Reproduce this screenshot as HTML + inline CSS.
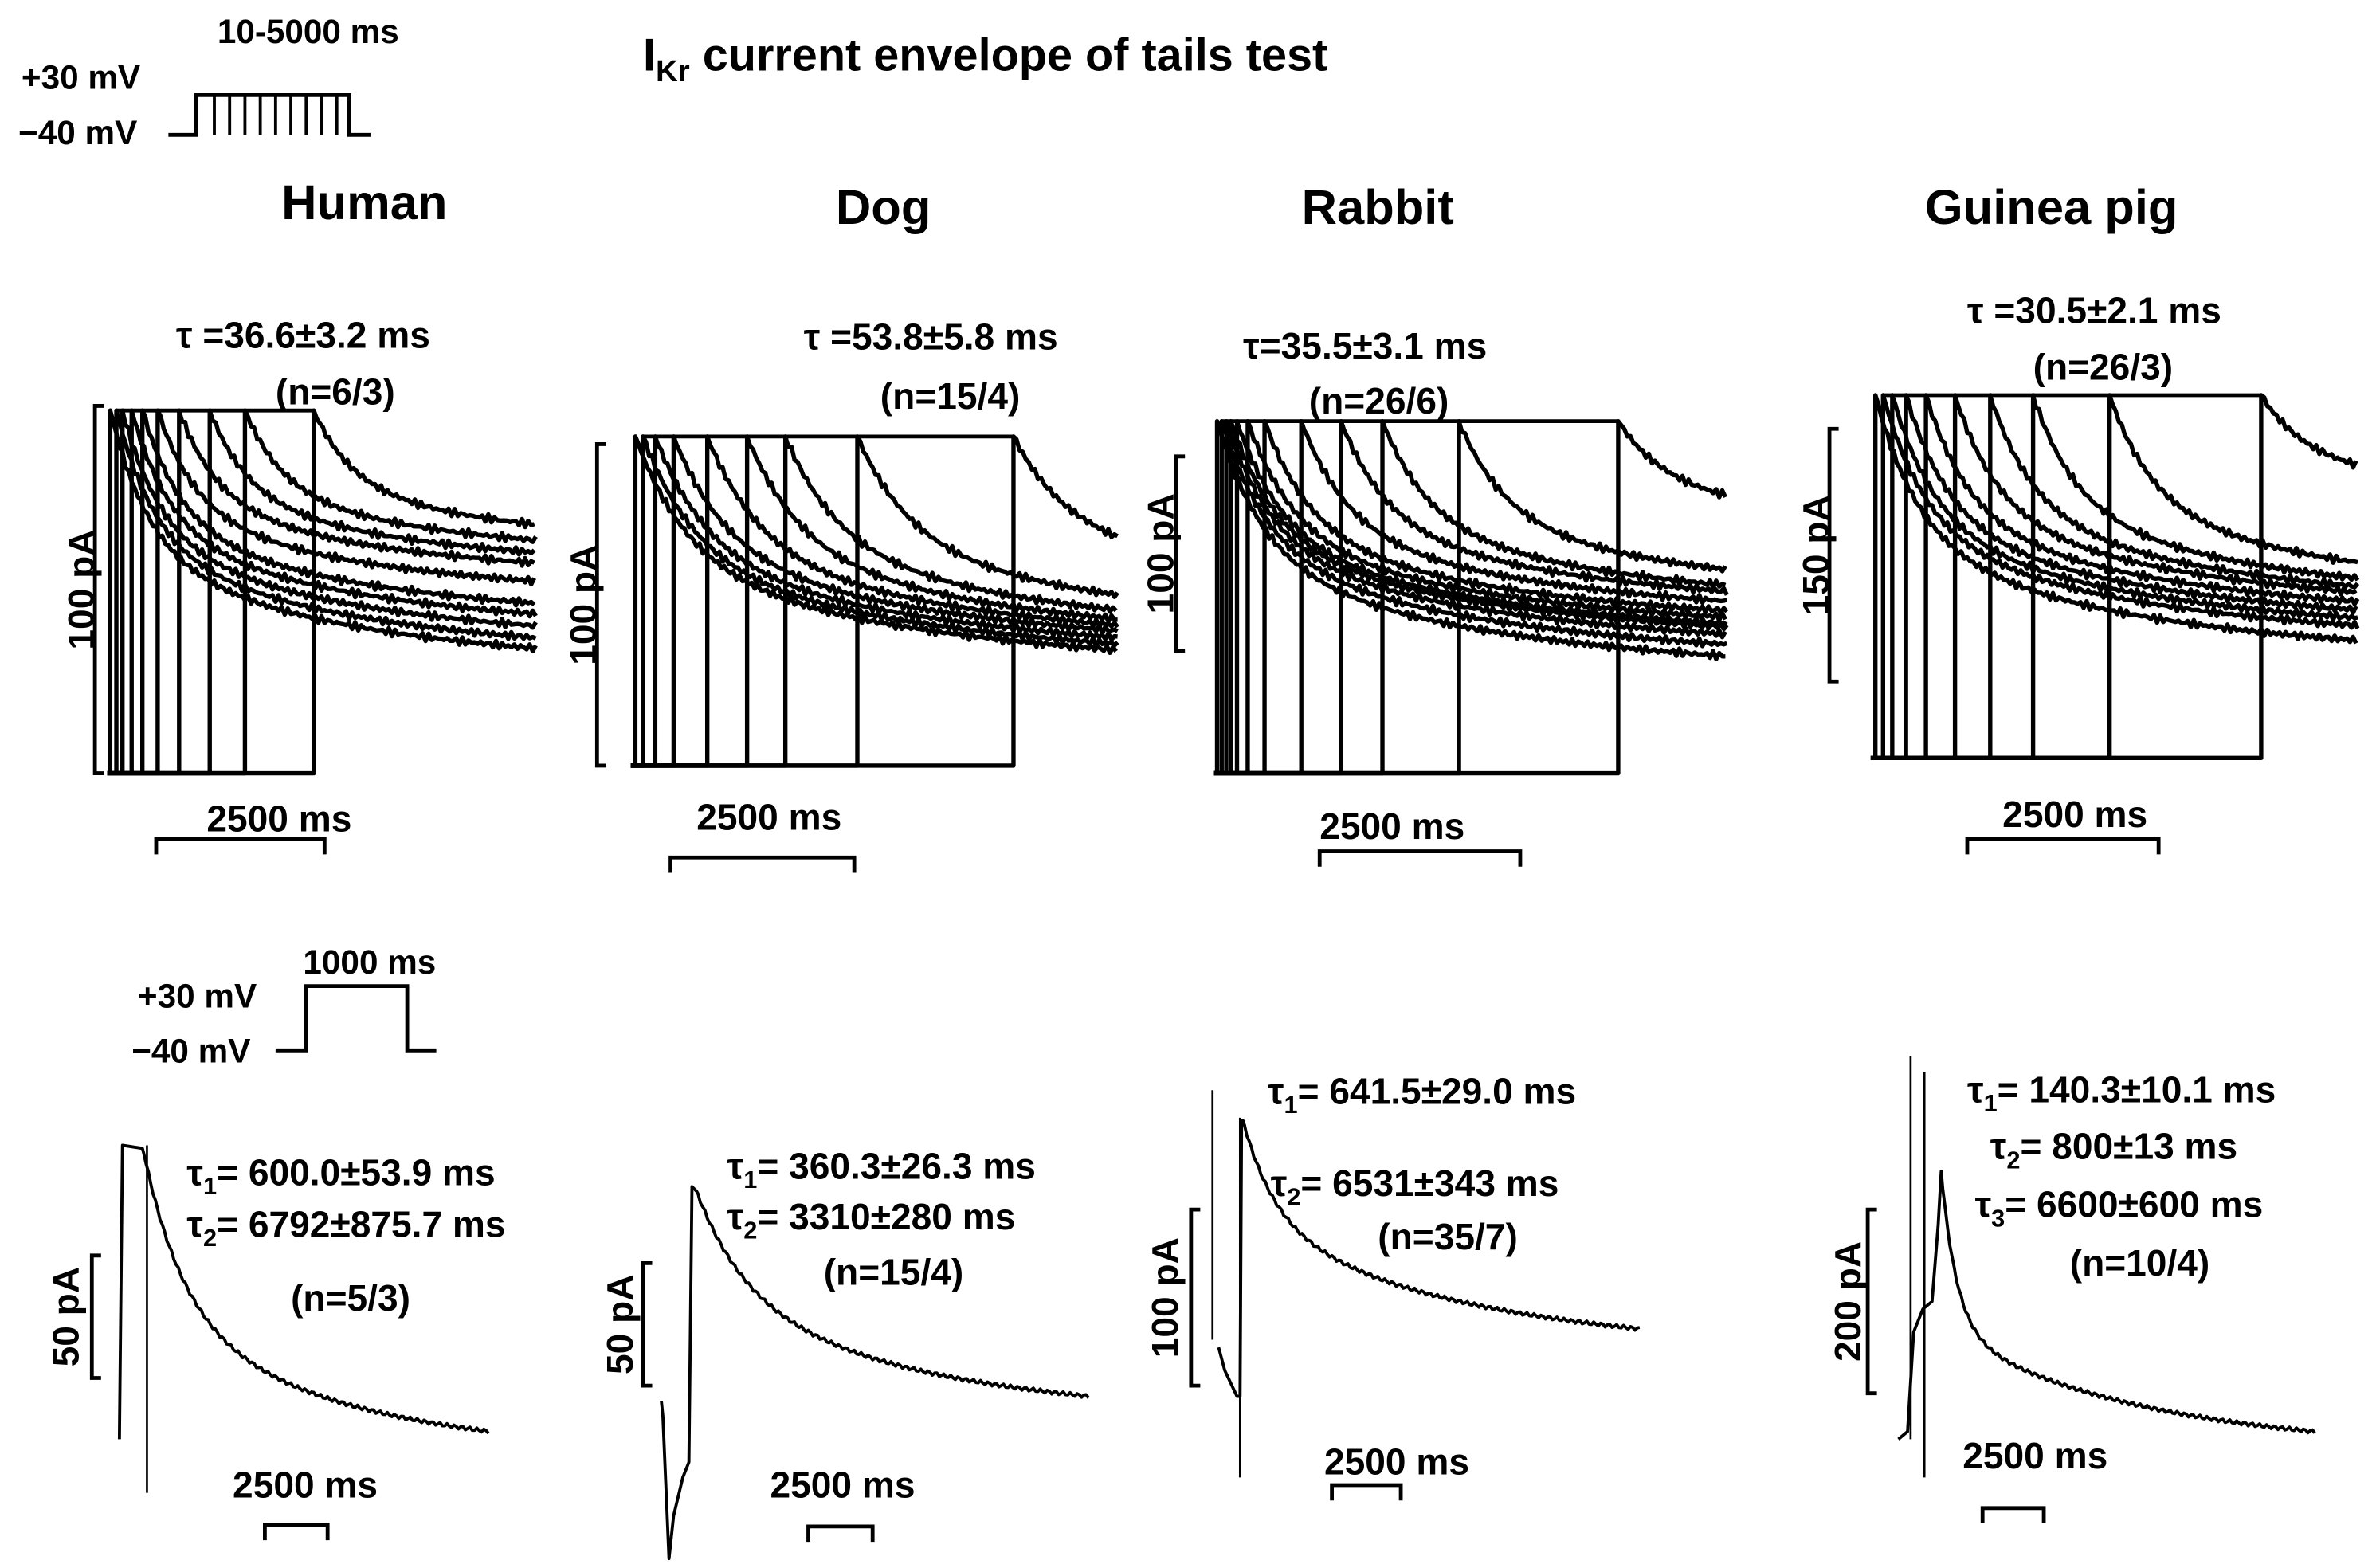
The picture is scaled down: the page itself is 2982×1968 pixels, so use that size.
<!DOCTYPE html>
<html><head><meta charset="utf-8"><style>
html,body{margin:0;padding:0;background:#fff}
svg{display:block}
text{font-family:"Liberation Sans",Arial,sans-serif;font-weight:bold;fill:#000}
</style></head><body>
<svg id="fig" width="2982" height="1968" viewBox="0 0 1552 1024" xmlns="http://www.w3.org/2000/svg">
<g stroke="#000" stroke-width="2.5" fill="none">
<polyline points="110,88 128,88 128,62 228,62 228,88 242,88"/>
</g>
<g id="protoLines" stroke="#000" stroke-width="2"></g>
<text x="14" y="58" font-size="22">+30 mV</text>
<text x="12" y="94" font-size="22">−40 mV</text>
<text x="142" y="28" font-size="22">10-5000 ms</text>
<text x="420" y="46" font-size="30">I<tspan font-size="20" dy="7">Kr</tspan><tspan dy="-7"> current envelope of tails test</tspan></text>
<text x="238" y="143" font-size="32" text-anchor="middle">Human</text>
<text x="577" y="146" font-size="32" text-anchor="middle">Dog</text>
<text x="900" y="146" font-size="32" text-anchor="middle">Rabbit</text>
<text x="1340" y="146" font-size="32" text-anchor="middle">Guinea pig</text>

<g font-size="24">
<text x="115" y="227">τ =36.6±3.2 ms</text><text x="180" y="264">(n=6/3)</text>
<text x="525" y="228">τ =53.8±5.8 ms</text><text x="575" y="267">(n=15/4)</text>
<text x="812" y="234">τ=35.5±3.1 ms</text><text x="855" y="270">(n=26/6)</text>
<text x="1285" y="211">τ =30.5±2.1 ms</text><text x="1328" y="248">(n=26/3)</text>
<text x="122" y="774">τ<tspan font-size="16" dy="6">1</tspan><tspan dy="-6">= 600.0±53.9 ms</tspan></text>
<text x="122" y="808">τ<tspan font-size="16" dy="6">2</tspan><tspan dy="-6">= 6792±875.7 ms</tspan></text>
<text x="190" y="856">(n=5/3)</text>
<text x="475" y="770">τ<tspan font-size="16" dy="6">1</tspan><tspan dy="-6">= 360.3±26.3 ms</tspan></text>
<text x="475" y="803">τ<tspan font-size="16" dy="6">2</tspan><tspan dy="-6">= 3310±280 ms</tspan></text>
<text x="538" y="839">(n=15/4)</text>
<text x="828" y="721">τ<tspan font-size="16" dy="6">1</tspan><tspan dy="-6">= 641.5±29.0 ms</tspan></text>
<text x="830" y="781">τ<tspan font-size="16" dy="6">2</tspan><tspan dy="-6">= 6531±343 ms</tspan></text>
<text x="900" y="816">(n=35/7)</text>
<text x="1285" y="720">τ<tspan font-size="16" dy="6">1</tspan><tspan dy="-6">= 140.3±10.1 ms</tspan></text>
<text x="1300" y="757">τ<tspan font-size="16" dy="6">2</tspan><tspan dy="-6">= 800±13 ms</tspan></text>
<text x="1290" y="795">τ<tspan font-size="16" dy="6">3</tspan><tspan dy="-6">= 6600±600 ms</tspan></text>
<text x="1352" y="833">(n=10/4)</text>
</g>

<g>
<polyline points="180,686 200,686 200,644 266,644 266,686 285,686" stroke="#000" stroke-width="2.5" fill="none"/>
<text x="90" y="658" font-size="22">+30 mV</text>
<text x="86" y="694" font-size="22">−40 mV</text>
<text x="198" y="636" font-size="22">1000 ms</text>
</g>
<g id="traces" fill="none" stroke="#000" stroke-linejoin="round"></g>
<g id="bars" stroke="#000" stroke-width="2.5" fill="none"></g>
<g id="barLabels" font-size="24"></g>
</svg>
<script>
// Top-row panels: pulse x positions (tail start), tail final levels
const humanPulses=[72,76,80,86,93,103,117,137,160,205];
const humanFinals=[435,428,420,412,405,390,378,372,365,358];
const dogPulses=[415,420,428,440,462,488,513,560,662];
const dogFinals=[440,436,432,428,426,424,420,415,395];
const rabbitPulses=[795,798,801,804,808,815,826,850,876,903,953,1057];
const rabbitFinals=[440,432,425,420,418,414,410,405,400,398,392,350];
const gpPulses=[1225,1230,1236,1245,1258,1277,1300,1328,1378,1477];
const gpFinals=[430,420,415,410,405,400,398,395,390,330];
const panels=[
 {name:'human',pulses:humanPulses,finals:humanFinals,top:268,bottom:505,end:350,x0:70,tau:25},
 {name:'dog',pulses:dogPulses,finals:dogFinals,top:285,bottom:500,end:730,x0:412,tau:35},
 {name:'rabbit',pulses:rabbitPulses,finals:rabbitFinals,top:275,bottom:505,end:1128,x0:793,tau:30},
 {name:'guinea-pig',pulses:gpPulses,finals:gpFinals,top:258,bottom:495,end:1540,x0:1222,tau:28}
];
const NS='http://www.w3.org/2000/svg';
const tr=document.getElementById('traces');
function mk(tag,attrs,parent){const e=document.createElementNS(NS,tag);for(const k in attrs)e.setAttribute(k,attrs[k]);parent.appendChild(e);return e;}
function jit(x,i){return 1.6*Math.sin(x*1.7+i*3.1)+1.1*Math.sin(x*4.3+i);}
panels.forEach(p=>{
 p.pulses.forEach((xs,i)=>{
  const fin=p.finals[i];
  let d=`M${p.x0},${p.bottom} L${xs},${p.bottom} L${xs},${p.top}`;
  for(let x=xs+2;x<=p.end;x+=2){
   const t=x-xs;
   const y=fin+(p.top-fin)*(0.55*Math.exp(-t/p.tau)+0.45*Math.exp(-t/(p.tau*6)));
   d+=` L${x},${(y+jit(x,i)).toFixed(1)}`;
  }
  const path=mk('path',{d:d,'stroke-width':2.8},tr);
  
  
 });
 const env=mk('line',{x1:p.pulses[1],y1:p.top,x2:p.pulses[p.pulses.length-1],y2:p.top,'stroke-width':2.5},tr);
 
 
});
// protocol pulses
const protoX=[140,150,160,170,180,190,200,210,220];
const pl=document.getElementById('protoLines');
protoX.forEach(x=>{const l=mk('line',{x1:x,y1:62,x2:x,y2:88},pl);
 
 });
// Bottom-row traces: [xPeak, yPeak, xEnd, yEnd, fastAmp, tauFast]
const bottomHuman=[93,748,320,935,0.55,25];
const bottomDog=[455,778,712,912,0.45,30];
const bottomRabbit=[812,732,1072,868,0.45,20];
const bottomGP=[1268,765,1512,935,0.6,10];
const pre={
 human:'M78,940 L80,748 L93,750',
 dog:'M432,915 L433,925 L437,1018 L440,990 L446,965 L450,955 L452,775 L455,778',
 rabbit:'M796,880 L800,895 L808,912 L810,912 L811,732 L812,732',
 gp:'M1240,940 L1246,935 L1250,870 L1256,855 L1262,850 L1266,800 L1268,765'
};
[['human',bottomHuman],['dog',bottomDog],['rabbit',bottomRabbit],['gp',bottomGP]].forEach(([n,b],i)=>{
 const [xp,yp,xe,ye,fa,tf]=b;
 let d=pre[n];
 const L=xe-xp;
 for(let x=xp+1;x<=xe;x+=1.5){
  const t=x-xp;
  const y=ye+(yp-ye)*(fa*Math.exp(-t/tf)+(1-fa)*Math.exp(-t/(L*0.45)))-(yp-ye)*(1-fa)*Math.exp(-1/0.45)*(t/L);
  d+=` L${x.toFixed(1)},${(y+1.2*Math.sin(x*2.9+i)).toFixed(1)}`;
 }
 const path=mk('path',{d:d,'stroke-width':2},tr);
 
 
});
// extra verticals bottom
[[96,748,975],[1257,700,965],[792,712,875],[810,730,965],[1248,690,940]].forEach(v=>{const l=mk('line',{x1:v[0],y1:v[1],x2:v[0],y2:v[2],'stroke-width':1.4},tr);
 
 });
// scale bars: vertical [x,y1,y2,label,labelX], horizontal [x1,x2,y,labelX,labelY]
const vBars=[[62,265,505,'100 pA',55],[390,290,500,'100 pA',383],[768,298,425,'100 pA',760],[1195,280,445,'150 pA',1188],
 [60,820,900,'50 pA',45],[420,825,905,'50 pA',407],[778,790,905,'100 pA',763],[1220,790,910,'200 pA',1209]];
const hBars=[[102,212,548,135,543],[438,558,560,455,542],[862,993,556,862,548],[1285,1410,548,1308,540],
 [173,214,996,152,978],[528,570,997,503,978],[870,915,970,865,963],[1295,1335,985,1282,959]];
const bg=document.getElementById('bars'),lg=document.getElementById('barLabels');
vBars.forEach(v=>{
 const p=mk('polyline',{points:`${v[0]+6},${v[1]} ${v[0]},${v[1]} ${v[0]},${v[2]} ${v[0]+6},${v[2]}`},bg);
 
 
 const cy=(v[1]+v[2])/2;
 const t=mk('text',{x:v[4],y:cy,'text-anchor':'middle',transform:`rotate(-90 ${v[4]} ${cy})`,'dominant-baseline':'middle'},lg);
 t.textContent=v[3];
 
 
});
hBars.forEach(h=>{
 const p=mk('polyline',{points:`${h[0]},${h[2]+10} ${h[0]},${h[2]} ${h[1]},${h[2]} ${h[1]},${h[2]+10}`},bg);
 
 
 const t=mk('text',{x:h[3],y:h[4]},lg);
 t.textContent='2500 ms';
 
 
});
</script>
</body></html>
